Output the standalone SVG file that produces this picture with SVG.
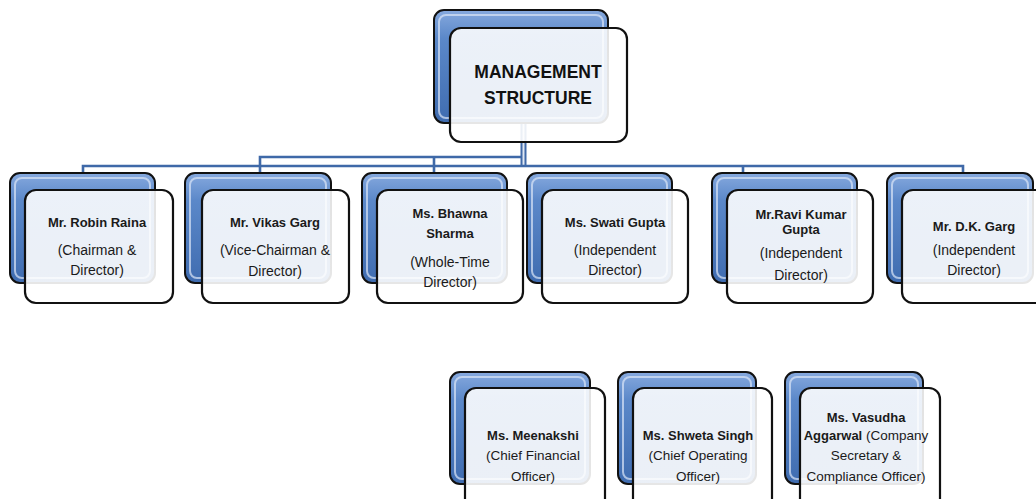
<svg xmlns="http://www.w3.org/2000/svg" width="1036" height="499" viewBox="0 0 1036 499">
<defs>
<linearGradient id="bg" x1="0" y1="0" x2="0" y2="1">
<stop offset="0" stop-color="#86a9de"/>
<stop offset="0.25" stop-color="#5b88c9"/>
<stop offset="1" stop-color="#3f6cb0"/>
</linearGradient>
<linearGradient id="fg" x1="0" y1="0" x2="0" y2="1">
<stop offset="0" stop-color="#ffffff" stop-opacity="0.88"/>
<stop offset="1" stop-color="#ffffff" stop-opacity="0.9"/>
</linearGradient>
</defs>
<style>
.back{fill:url(#bg);stroke:#111;stroke-width:2}
.bevel{fill:none;stroke:#dbe6f7;stroke-width:2;stroke-opacity:0.7}
.front{fill:url(#fg);stroke:#111;stroke-width:2.2}
.conn{fill:none;stroke:#3f69a8;stroke-width:2.6}
.trunk{fill:none;stroke:#3f69a8;stroke-width:6}
.trunkin{fill:none;stroke:#dfe7f3;stroke-width:2}
text{font-family:"Liberation Sans",Arial,sans-serif;fill:#1a1a1a;text-anchor:middle}
.t{font-size:17.5px;font-weight:bold;fill:#111}
.n{font-size:13px;font-weight:bold}
.r{font-size:14px;font-weight:normal}
.r2{font-size:13.5px;font-weight:normal}
</style>
<g id="connectors">
<path class="trunk" d="M523.5 123 V166"/>
<path class="trunkin" d="M523.5 123 V166"/>
<path class="conn" d="M83 174 V166 H963 V174"/>
<path class="conn" d="M260 174 V157 H521"/>
<path class="conn" d="M434 174 V157"/>
<path class="conn" d="M743 174 V166"/>
</g>
<g id="management-structure">
<rect class="back" x="434" y="10" width="174" height="113" rx="10"/>
<rect class="bevel" x="439" y="15" width="164" height="103" rx="7"/>
<rect class="front" x="450" y="28" width="177" height="114" rx="11"/>
<text class="t" x="538" y="78">MANAGEMENT</text>
<text class="t" x="538" y="104">STRUCTURE</text>
</g>
<g id="robin-raina">
<rect class="back" x="10" y="173" width="145" height="110" rx="10"/>
<rect class="bevel" x="15" y="178" width="135" height="100" rx="7"/>
<rect class="front" x="25" y="190" width="148" height="113" rx="11"/>
<text class="n" x="97" y="227">Mr. Robin Raina</text>
<text class="r" x="97" y="255">(Chairman &amp;</text>
<text class="r" x="97" y="275">Director)</text>
</g>
<g id="vikas-garg">
<rect class="back" x="185" y="173" width="146" height="110" rx="10"/>
<rect class="bevel" x="190" y="178" width="136" height="100" rx="7"/>
<rect class="front" x="202" y="190" width="147" height="113" rx="11"/>
<text class="n" x="275" y="227">Mr. Vikas Garg</text>
<text class="r" x="275" y="255">(Vice-Chairman &amp;</text>
<text class="r" x="275" y="276">Director)</text>
</g>
<g id="bhawna-sharma">
<rect class="back" x="362" y="173" width="145" height="110" rx="10"/>
<rect class="bevel" x="367" y="178" width="135" height="100" rx="7"/>
<rect class="front" x="377" y="190" width="146" height="113" rx="11"/>
<text class="n" x="450" y="218">Ms. Bhawna</text>
<text class="n" x="450" y="238">Sharma</text>
<text class="r" x="450" y="267">(Whole-Time</text>
<text class="r" x="450" y="287">Director)</text>
</g>
<g id="swati-gupta">
<rect class="back" x="527" y="173" width="145" height="110" rx="10"/>
<rect class="bevel" x="532" y="178" width="135" height="100" rx="7"/>
<rect class="front" x="542" y="190" width="146" height="113" rx="11"/>
<text class="n" x="615" y="227">Ms. Swati Gupta</text>
<text class="r" x="615" y="255">(Independent</text>
<text class="r" x="615" y="275">Director)</text>
</g>
<g id="ravi-kumar-gupta">
<rect class="back" x="712" y="173" width="145" height="110" rx="10"/>
<rect class="bevel" x="717" y="178" width="135" height="100" rx="7"/>
<rect class="front" x="727" y="190" width="146" height="113" rx="11"/>
<text class="n" x="801" y="219">Mr.Ravi Kumar</text>
<text class="n" x="801" y="234">Gupta</text>
<text class="r" x="801" y="258">(Independent</text>
<text class="r" x="801" y="280">Director)</text>
</g>
<g id="dk-garg">
<rect class="back" x="887" y="173" width="146" height="110" rx="10"/>
<rect class="bevel" x="892" y="178" width="136" height="100" rx="7"/>
<rect class="front" x="902" y="190" width="148" height="113" rx="11"/>
<text class="n" x="974" y="231">Mr. D.K. Garg</text>
<text class="r" x="974" y="255">(Independent</text>
<text class="r" x="974" y="275">Director)</text>
</g>
<g id="meenakshi">
<rect class="back" x="450" y="372" width="140" height="112" rx="10"/>
<rect class="bevel" x="455" y="377" width="130" height="102" rx="7"/>
<rect class="front" x="465" y="388" width="140" height="125" rx="11"/>
<text class="n" x="533" y="440">Ms. Meenakshi</text>
<text class="r2" x="533" y="460">(Chief Financial</text>
<text class="r2" x="533" y="481">Officer)</text>
</g>
<g id="shweta-singh">
<rect class="back" x="618" y="372" width="138" height="112" rx="10"/>
<rect class="bevel" x="623" y="377" width="128" height="102" rx="7"/>
<rect class="front" x="633" y="388" width="139" height="125" rx="11"/>
<text class="n" x="698" y="440">Ms. Shweta Singh</text>
<text class="r2" x="698" y="460">(Chief Operating</text>
<text class="r2" x="698" y="481">Officer)</text>
</g>
<g id="vasudha-aggarwal">
<rect class="back" x="785" y="372" width="138" height="112" rx="10"/>
<rect class="bevel" x="790" y="377" width="128" height="102" rx="7"/>
<rect class="front" x="800" y="388" width="140" height="125" rx="11"/>
<text class="n" x="866" y="422">Ms. Vasudha</text>
<text class="r2" x="866" y="440"><tspan font-weight="bold" font-size="13">Aggarwal</tspan> (Company</text>
<text class="r2" x="866" y="460">Secretary &amp;</text>
<text class="r2" x="866" y="481">Compliance Officer)</text>
</g>
</svg>
